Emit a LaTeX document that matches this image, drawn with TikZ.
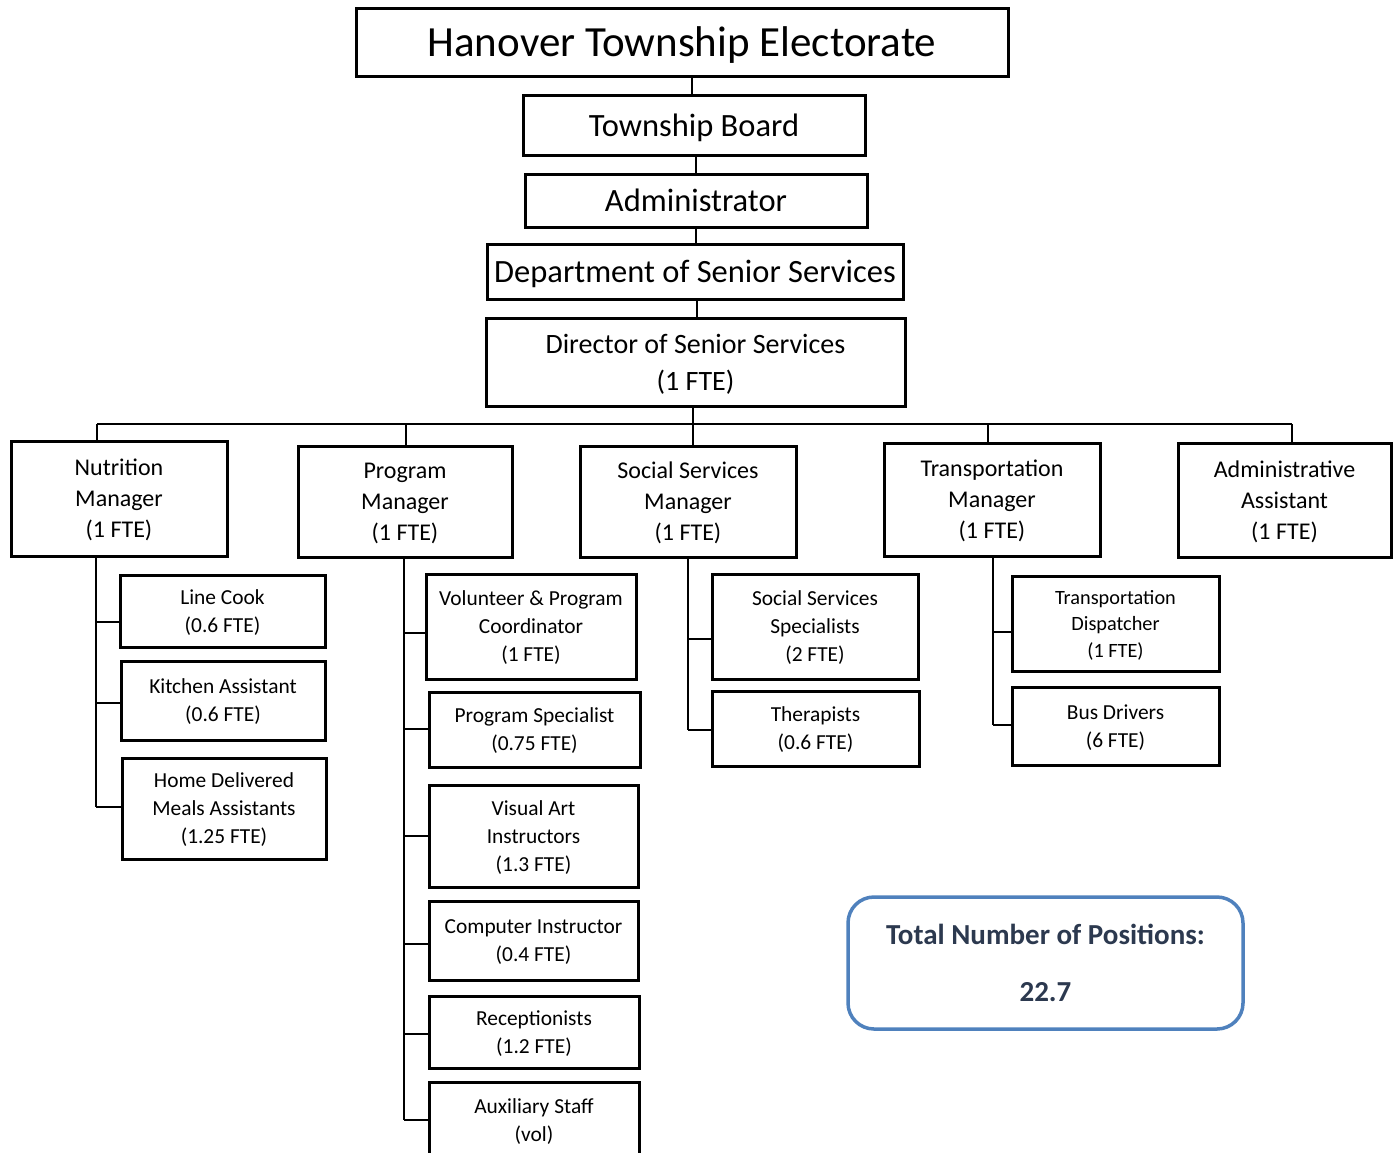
\documentclass[tikz,border=0pt]{standalone}
\usepackage{fontspec}
\setmainfont{Carlito}
\definecolor{totalblue}{RGB}{79,129,189}
\definecolor{totaltext}{RGB}{44,57,79}
\begin{document}
\begin{tikzpicture}[x=1pt,y=-1pt,
  box/.style={draw, line width=3pt, align=center, inner sep=0pt, text depth=0pt},
  toptext/.style={font=\fontsize{32.5}{38}\selectfont},
  mgrtext/.style={font=\fontsize{24}{31}\selectfont},
  subtext/.style={font=\fontsize{21.4}{28}\selectfont},
  smalltext/.style={font=\fontsize{20.3}{26.5}\selectfont},
  conn/.style={line width=1.8pt}]
\useasboundingbox (0,0) rectangle (1397,1152);

% ---- chain of command at the top ----
\node[box, minimum width=652pt, minimum height=68pt, font=\fontsize{43}{50}\selectfont] (el) at (682,42) {Hanover Township Electorate};
\node[box, toptext, minimum width=342pt, minimum height=60pt] (tb) at (694,125) {Township Board};
\node[box, toptext, minimum width=342pt, minimum height=53pt] (ad) at (696,200.5) {Administrator};
\node[box, toptext, minimum width=416pt, minimum height=55pt] (ds) at (695,271.5) {Department of Senior Services};
\node[box, font=\fontsize{28}{37}\selectfont, minimum width=419pt, minimum height=88pt] (dir) at (695.5,362) {Director of Senior Services\\(1 FTE)};

\draw[conn] (692,0 |- el.south) -- (692,0 |- tb.north);
\draw[conn] (696,0 |- tb.south) -- (696,0 |- ad.north);
\draw[conn] (696,0 |- ad.south) -- (696,0 |- ds.north);
\draw[conn] (697,0 |- ds.south) -- (697,0 |- dir.north);

% ---- managers ----
\node[box, mgrtext, minimum width=216pt, minimum height=115pt] (nm) at (119,498.5) {Nutrition\\Manager\\(1 FTE)};
\node[box, mgrtext, minimum width=214pt, minimum height=111pt] (pm) at (405,501.5) {Program\\Manager\\(1 FTE)};
\node[box, mgrtext, minimum width=216pt, minimum height=111pt] (sm) at (688,501.5) {Social Services\\Manager\\(1 FTE)};
\node[box, mgrtext, minimum width=216pt, minimum height=113pt] (tm) at (992,499.5) {Transportation\\Manager\\(1 FTE)};
\node[box, mgrtext, minimum width=213pt, minimum height=114pt] (aa) at (1284.5,500) {Administrative\\Assistant\\(1 FTE)};

% bus from the director to the managers
\coordinate (bus) at (0,424);
\draw[conn] (693,0 |- dir.south) -- (693,0 |- bus);
\draw[conn] (97,0 |- bus) -- (1292,0 |- bus);
\draw[conn] (97,0 |- bus) -- (97,0 |- nm.north);
\draw[conn] (406,0 |- bus) -- (406,0 |- pm.north);
\draw[conn] (693,0 |- bus) -- (693,0 |- sm.north);
\draw[conn] (988,0 |- bus) -- (988,0 |- tm.north);
\draw[conn] (1292,0 |- bus) -- (1292,0 |- aa.north);

% ---- nutrition staff ----
\node[box, subtext, minimum width=205pt, minimum height=72pt] (lc) at (222.5,611) {Line Cook\\(0.6 FTE)};
\node[box, subtext, minimum width=204pt, minimum height=79pt] (ka) at (223,700.5) {Kitchen Assistant\\(0.6 FTE)};
\node[box, subtext, minimum width=204pt, minimum height=101pt] (hd) at (224,808.5) {Home Delivered\\Meals Assistants\\(1.25 FTE)};
\draw[conn] (96,0 |- nm.south) -- (96,807);
\draw[conn] (96,622) -- (lc.west |- 0,622);
\draw[conn] (96,703) -- (ka.west |- 0,703);
\draw[conn] (96,807) -- (hd.west |- 0,807);

% ---- program staff ----
\node[box, subtext, minimum width=210pt, minimum height=105pt] (vp) at (531,626.5) {Volunteer \& Program\\Coordinator\\(1 FTE)};
\node[box, subtext, minimum width=211pt, minimum height=75pt] (ps) at (534.5,729.5) {Program Specialist\\(0.75 FTE)};
\node[box, subtext, minimum width=209pt, minimum height=102pt] (va) at (533.5,836) {Visual Art\\Instructors\\(1.3 FTE)};
\node[box, subtext, minimum width=209pt, minimum height=79pt] (ci) at (533.5,940.5) {Computer Instructor\\(0.4 FTE)};
\node[box, subtext, minimum width=210pt, minimum height=72pt] (rc) at (534,1032) {Receptionists\\(1.2 FTE)};
\node[box, subtext, minimum width=210pt, minimum height=76pt] (ax) at (534,1120) {Auxiliary Staff\\(vol)};
\draw[conn] (404,0 |- pm.south) -- (404,1120);
\draw[conn] (404,633) -- (vp.west |- 0,633);
\draw[conn] (404,729) -- (ps.west |- 0,729);
\draw[conn] (404,836) -- (va.west |- 0,836);
\draw[conn] (404,944) -- (ci.west |- 0,944);
\draw[conn] (404,1034) -- (rc.west |- 0,1034);
\draw[conn] (404,1120) -- (ax.west |- 0,1120);

% ---- social services staff ----
\node[box, subtext, minimum width=206pt, minimum height=105pt] (ssp) at (815,626.5) {Social Services\\Specialists\\(2 FTE)};
\node[box, subtext, minimum width=207pt, minimum height=75pt] (th) at (815.5,728.5) {Therapists\\(0.6 FTE)};
\draw[conn] (688,0 |- sm.south) -- (688,730);
\draw[conn] (688,639) -- (ssp.west |- 0,639);
\draw[conn] (688,730) -- (th.west |- 0,730);

% ---- transportation staff ----
\node[box, smalltext, minimum width=207pt, minimum height=95pt] (td) at (1115.5,623.5) {Transportation\\Dispatcher\\(1 FTE)};
\node[box, subtext, minimum width=207pt, minimum height=78pt] (bd) at (1115.5,726) {Bus Drivers\\(6 FTE)};
\draw[conn] (993,0 |- tm.south) -- (993,725);
\draw[conn] (993,632) -- (td.west |- 0,632);
\draw[conn] (993,725) -- (bd.west |- 0,725);

% ---- total ----
\node[draw=totalblue, line width=3.5pt, rounded corners=26pt, align=center, inner sep=0pt,
      minimum width=395pt, minimum height=132pt, text=totaltext,
      font=\bfseries\fontsize{29}{57}\selectfont] (tot) at (1045.5,963)
  {Total Number of Positions:\\22.7};
\end{tikzpicture}
\end{document}
